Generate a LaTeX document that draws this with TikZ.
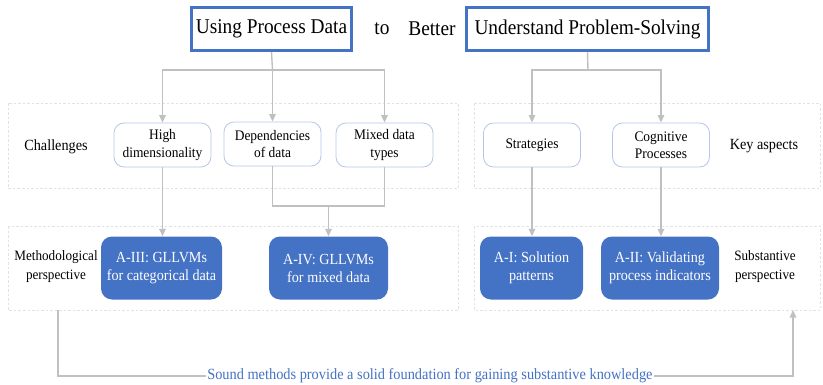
\documentclass[tikz,border=0pt]{standalone}
\usepackage{fontspec}
\setmainfont{Liberation Serif}[FakeStretch=0.92]
\usetikzlibrary{arrows.meta}
\definecolor{ablue}{HTML}{4472C4}
\definecolor{lblue}{HTML}{B4C7E7}
\definecolor{conn}{HTML}{C0C0C0}
\definecolor{panelc}{HTML}{E2E2E2}

\begin{document}
\begin{tikzpicture}[x=1pt,y=-1pt,
  titlebox/.style={draw=ablue, line width=3pt, minimum height=43pt, inner sep=0pt,
    font=\fontsize{21}{22}\selectfont},
  plain/.style={inner sep=0pt, font=\fontsize{21}{22}\selectfont},
  aspect/.style={draw=lblue, line width=0.8pt, rounded corners=10pt, fill=white,
    minimum width=97pt, minimum height=44pt, inner sep=0pt, align=center,
    font=\fontsize{14.6}{17.5}\selectfont},
  study/.style={fill=ablue, text=white, rounded corners=11pt, minimum height=63pt,
    inner sep=0pt, align=center, font=\fontsize{15.4}{18}\selectfont},
  side/.style={align=center, inner sep=0pt, font=\fontsize{15.5}{17}\selectfont},
  sidesmall/.style={align=center, inner sep=0pt, font=\fontsize{14.3}{19}\selectfont},
  panelbox/.style={draw=panelc, dashed, dash pattern=on 2.5pt off 2pt, line width=0.7pt},
  link/.style={draw=conn, line width=1.4pt},
  arrow/.style={link, -{Triangle[length=7.5pt,width=6.5pt]}},
  note/.style={fill=white, text=ablue, inner sep=1pt, font=\fontsize{15.6}{17}\selectfont}]

\useasboundingbox (0,0) rectangle (823,384);

% dashed panels
\draw[panelbox] (8,103) rectangle (458,188);
\draw[panelbox] (474,103) rectangle (820,188);
\draw[panelbox] (8,226) rectangle (458,310);
\draw[panelbox] (474,226) rectangle (820,310);

% title line
\node[titlebox, minimum width=160pt] (t1) at (271.5,29) {Using Process Data};
\node[plain] (to) at (382,29) {to};
\node[plain] (better) at (432,29) {Better};
\node[titlebox, minimum width=242pt] (t2) at (587.5,29) {Understand Problem-Solving};

% challenges / key aspects
\node[aspect] (hd) at (162.5,145) {High\\dimensionality};
\node[aspect] (dep) at (272.5,144) {Dependencies\\of data};
\node[aspect] (mix) at (384.5,145) {Mixed data\\types};
\node[aspect] (str) at (532,145) {Strategies};
\node[aspect] (cog) at (661,145) {Cognitive\\Processes};

\node[side] (chal) at (56,147) {Challenges};
\node[side] (key) at (764,146) {Key aspects};

% studies
\node[study, minimum width=121pt] (a3) at (161.5,268) {A-III: GLLVMs\\for categorical data};
\node[study, minimum width=119pt] (a4) at (328.5,268) {A-IV: GLLVMs\\for mixed data};
\node[study, minimum width=103pt] (a1) at (531.5,268) {A-I: Solution\\patterns};
\node[study, minimum width=118pt] (a2) at (660,268) {A-II: Validating\\process indicators};

\node[sidesmall] (meth) at (56,266.5) {Methodological\\perspective};
\node[sidesmall] (subs) at (765,266.5) {Substantive\\perspective};

% branching from the titles
\coordinate (j1) at (272.5,70);
\coordinate (j2) at (588,70);
\draw[link] (t1.south) -- (j1);
\draw[arrow] (j1) -| (hd);
\draw[arrow] (j1) -- (dep);
\draw[arrow] (j1) -| (mix);
\draw[link] (t2.south) -- (j2);
\draw[arrow] (j2) -| (str);
\draw[arrow] (j2) -| (cog);

% challenges to studies
\coordinate (j3) at (328.5,206);
\draw[arrow] (hd) -- (hd |- a3.north);
\draw[link] (dep.south) |- (j3);
\draw[link] (mix.south) |- (j3);
\draw[arrow] (j3) -- (a4);
\draw[arrow] (str) -- (str |- a1.north);
\draw[arrow] (cog) -- (cog |- a2.north);

% methods feed substance
\coordinate (ls) at (58,310);
\coordinate (c1) at (58,376);
\coordinate (c2) at (793,376);
\coordinate (le) at (793,310);
\draw[arrow] (ls) -- (c1) -- node[note, pos=0.506] (lbl)
  {Sound methods provide a solid foundation for gaining substantive knowledge} (c2) -- (le);
\end{tikzpicture}
\end{document}
